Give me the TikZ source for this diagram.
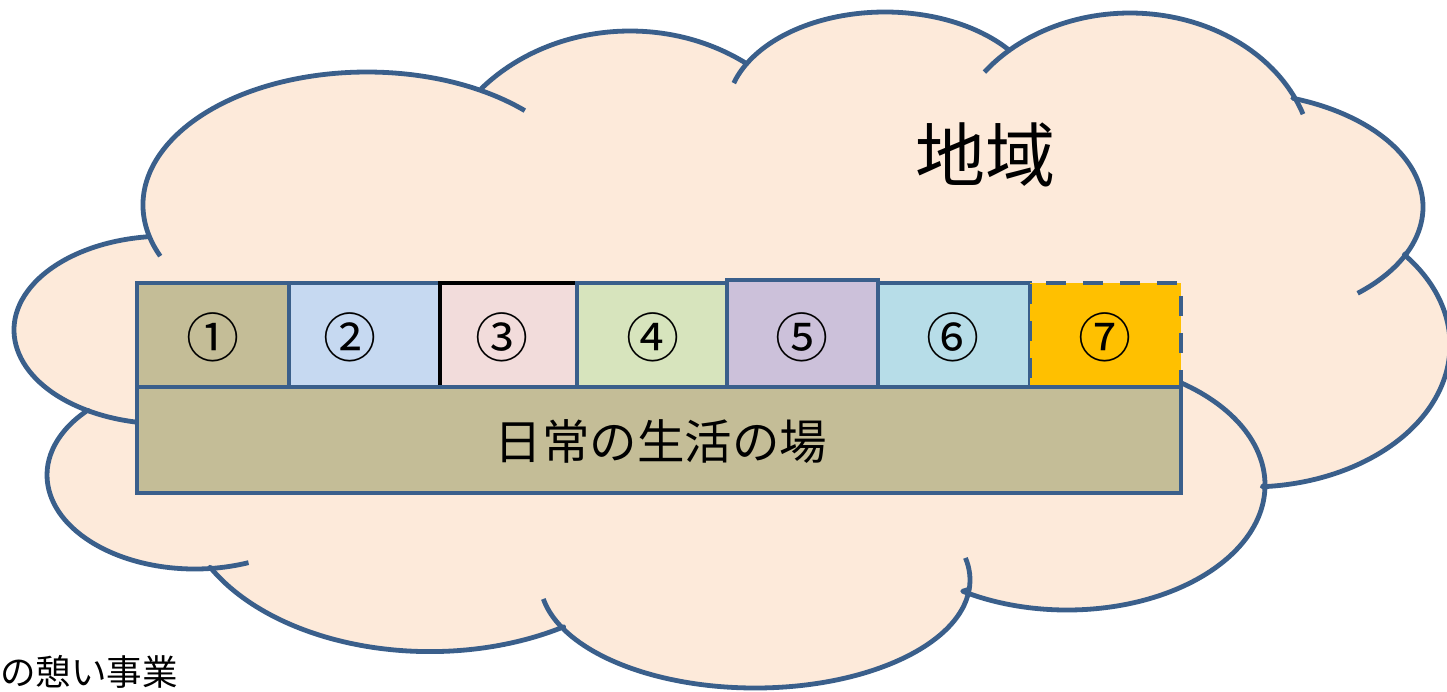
\documentclass[tikz,border=0pt]{standalone}
\usepackage{fontspec}
\setmainfont{Noto Sans CJK JP}
\definecolor{cloudfill}{HTML}{FDEADA}
\definecolor{edge}{HTML}{3A5F8B}
\definecolor{tan}{HTML}{C4BD97}
\definecolor{cblue}{HTML}{C6D9F1}
\definecolor{cpink}{HTML}{F2DCDB}
\definecolor{cgreen}{HTML}{D7E4BD}
\definecolor{cpurple}{HTML}{CCC1DA}
\definecolor{cteal}{HTML}{B7DDE8}
\definecolor{corange}{HTML}{FFC000}
\tikzset{
  cloudline/.style={draw=edge, line width=4.8pt, line join=round, line cap=butt},
  hook/.style={draw=edge, line width=4.8pt, line cap=butt},
  cell/.style={draw=edge, line width=4.5pt, minimum height=104pt, inner sep=0pt, outer sep=0pt},
  numlabel/.style={font=\fontsize{53}{56}\selectfont, inner sep=0pt},
}
\begin{document}
\begin{tikzpicture}[x=1pt,y=-1pt]
\fill[white] (0,0) rectangle (1447,691);
\useasboundingbox (0,0) rectangle (1447,691);
% cloud outline: elliptical lobes
\filldraw[fill=cloudfill, cloudline]
  ([shift={(367,205)}]166.3:224 and 133) arc[start angle=166.3, end angle=300.9, x radius=224, y radius=133]
  -- ([shift={(630,205)}]222:200 and 174) arc[start angle=222, end angle=305.6, x radius=200, y radius=174]
  -- ([shift={(885,112)}]209.3:158 and 100) arc[start angle=209.3, end angle=321, x radius=158, y radius=100]
  -- ([shift={(1130,163)}]228.7:183 and 150) arc[start angle=228.7, end angle=334.1, x radius=183, y radius=150]
  -- ([shift={(1230,207)}]289:193 and 115) arc[start angle=289, end angle=383.6, x radius=193, y radius=115]
  -- ([shift={(1250,345)}]320.5:200 and 142) arc[start angle=320.5, end angle=446.5, x radius=200, y radius=142]
  -- ([shift={(1067,485)}]0:198 and 125) arc[start angle=0, end angle=121.8, x radius=198, y radius=125]
  -- ([shift={(755,580)}]4.9:215 and 108) arc[start angle=4.9, end angle=153.9, x radius=215, y radius=108]
  -- ([shift={(430,494.6)}]57.4:248 and 157) arc[start angle=57.4, end angle=152.5, x radius=248, y radius=157]
  -- ([shift={(195,475)}]84.1:148 and 94) arc[start angle=84.1, end angle=223.6, x radius=148, y radius=94]
  -- ([shift={(165.6,330)}]120.3:151.6 and 93.9) arc[start angle=120.3, end angle=262.2, x radius=151.6, y radius=93.9]
  -- cycle;
% hooks of the cloud
\draw[hook] ([shift={(367,205)}]157.4:224 and 133) arc[start angle=157.4, end angle=166.3, x radius=224, y radius=133];
\draw[hook] ([shift={(367,205)}]300.9:224 and 133) arc[start angle=300.9, end angle=314.8, x radius=224, y radius=133];
\draw[hook] ([shift={(885,112)}]196.8:158 and 100) arc[start angle=196.8, end angle=209.3, x radius=158, y radius=100];
\draw[hook] ([shift={(1130,163)}]217.3:183 and 150) arc[start angle=217.3, end angle=228.7, x radius=183, y radius=150];
\draw[hook] ([shift={(1130,163)}]334.1:183 and 150) arc[start angle=334.1, end angle=341, x radius=183, y radius=150];
\draw[hook] ([shift={(1230,207)}]383.6:193 and 115) arc[start angle=383.6, end angle=408.6, x radius=193, y radius=115];
\draw[hook] ([shift={(1067,485)}]-54.6:198 and 125) arc[start angle=-54.6, end angle=0, x radius=198, y radius=125];
\draw[hook] ([shift={(755,580)}]-11.8:215 and 108) arc[start angle=-11.8, end angle=4.9, x radius=215, y radius=108];
\draw[hook] ([shift={(755,580)}]153.9:215 and 108) arc[start angle=153.9, end angle=169.9, x radius=215, y radius=108];
\draw[hook] ([shift={(195,475)}]68.8:148 and 94) arc[start angle=68.8, end angle=84.1, x radius=148, y radius=94];
\draw[hook] ([shift={(165.6,330)}]100.9:151.6 and 93.9) arc[start angle=100.9, end angle=120.3, x radius=151.6, y radius=93.9];
% cells
\node[cell, fill=tan, minimum width=152pt] (c1) at (213,335) {};
\node[cell, fill=cblue, minimum width=151pt] (c2) at (364.5,335) {};
\node[cell, fill=cpink, draw=black, line width=3.5pt, minimum width=137pt] (c3) at (508.5,335) {};
\node[cell, fill=cgreen, minimum width=150pt] (c4) at (652,335) {};
\node[cell, fill=cpurple, minimum width=151pt, minimum height=107pt] (c5) at (802.5,333.5) {};
\node[cell, fill=cteal, minimum width=152pt] (c6) at (954,335) {};
\node[cell, fill=corange, dash pattern=on 20pt off 17pt, minimum width=151pt] (c7) at (1105.5,335) {};
\node[cell, fill=tan, minimum width=1044pt, minimum height=106pt] (base) at (659,440) {};
% labels
\node[numlabel] (n1) at (213,337) {①};
\node[numlabel] (n2) at (350,337) {②};
\node[numlabel] (n3) at (502,337) {③};
\node[numlabel] (n4) at (653,337) {④};
\node[numlabel] (n5) at (802,337) {⑤};
\node[numlabel] (n6) at (953,337) {⑥};
\node[numlabel] (n7) at (1105,337) {⑦};
\node[font=\fontsize{47.5}{50}\selectfont, inner sep=0pt] (lbase) at (661,442) {日常の生活の場};
\node[font=\fontsize{70}{74}\selectfont, inner sep=0pt] (region) at (985,155) {地域};
\node[font=\fontsize{35.5}{38}\selectfont, inner sep=0pt, anchor=base west] (note) at (0,685) {の憩い事業};
\end{tikzpicture}
\end{document}
